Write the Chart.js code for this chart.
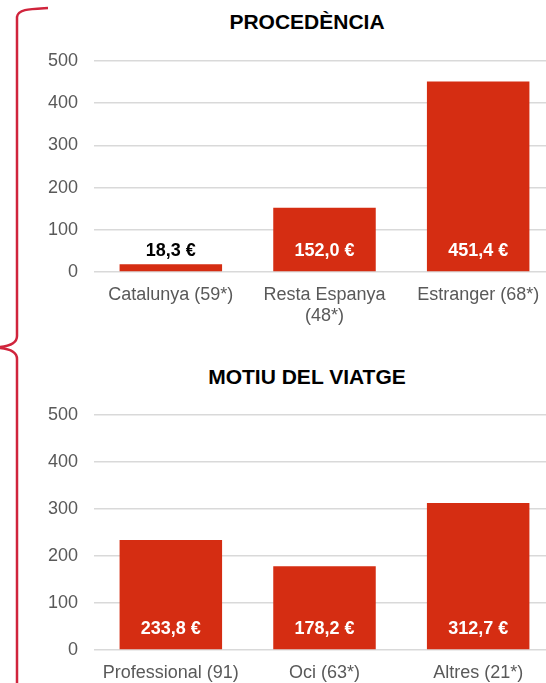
<!DOCTYPE html>
<html>
<head>
<meta charset="utf-8">
<script src="https://cdn.jsdelivr.net/npm/chart.js@4.4.0/dist/chart.umd.min.js"></script>
<style>
  html, body { margin: 0; padding: 0; background: #fff; overflow: hidden; }
  #wrap { position: relative; width: 546px; height: 683px; overflow: hidden; }
  canvas { position: absolute; }
  #brace { position: absolute; left: 0; top: 0; }
  .title {
    position: absolute; left: 107px; width: 400px; text-align: center;
    font: bold 21px "Liberation Sans", Arial, sans-serif; color: #000;
    line-height: 24px;
  }
</style>
</head>
<body>
<div id="wrap">
  <svg id="brace" width="60" height="683">
    <path d="M48,8 C30,9 18,9 17,17 L17,336 C17,343 10,346 0,347 M0,348 C10,349 17,352 17,359 L17,683"
          fill="none" stroke="#d0243c" stroke-width="2.5"/>
  </svg>
  <div class="title" style="top:10px;">PROCEDÈNCIA</div>
  <div class="title" style="top:365px;">MOTIU DEL VIATGE</div>
  <canvas id="procedencia" width="531" height="330" style="left:37px; top:0px;"></canvas>
  <canvas id="motiu" width="531" height="330" style="left:37px; top:355px;"></canvas>
</div>
<script>
const procLabels = ['Catalunya (59*)', ['Resta Espanya', '(48*)'], 'Estranger (68*)'];
const procValues = [18.3, 152.0, 451.4];
const motiuLabels = ['Professional (91)', 'Oci (63*)', 'Altres (21*)'];
const motiuValues = [233.8, 178.2, 312.7];

const barColor = '#d52d12';
const fontFamily = '"Liberation Sans", Arial, sans-serif';

// value labels sit just above the baseline, white inside tall bars
const valueLabels = {
  id: 'valueLabels',
  afterDatasetsDraw(chart) {
    const ctx = chart.ctx;
    const yScale = chart.scales.y;
    const base = yScale.getPixelForValue(0);
    const meta = chart.getDatasetMeta(0);
    ctx.save();
    ctx.font = 'bold 18px ' + fontFamily;
    ctx.textAlign = 'center';
    ctx.textBaseline = 'middle';
    meta.data.forEach(function(bar, i) {
      const v = chart.data.datasets[0].data[i];
      const y = base - 21;
      ctx.fillStyle = bar.y < y - 12 ? '#ffffff' : '#000000';
      ctx.fillText(v.toFixed(1).replace('.', ',') + ' €', bar.x, y);
    });
    ctx.restore();
  }
};

function makeChart(id, labels, values, padTop, xHeight) {
  const ctx = document.getElementById(id).getContext('2d');
  return new Chart(ctx, {
    type: 'bar',
    data: {
      labels: labels,
      datasets: [{
        data: values,
        backgroundColor: barColor,
        borderWidth: 0,
        categoryPercentage: 1,
        barPercentage: 0.667
      }]
    },
    options: {
      responsive: false,
      animation: false,
      layout: { padding: { left: 11, right: 13, top: padTop, bottom: 0 } },
      plugins: {
        legend: { display: false },
        tooltip: { enabled: false },
        title: { display: false }
      },
      scales: {
        x: {
          grid: { display: false, drawTicks: false },
          border: { display: false },
          afterFit: function(scale) { scale.height = xHeight; },
          ticks: {
            color: '#595959',
            font: { family: fontFamily, size: 18 },
            padding: 12,
            maxRotation: 0,
            autoSkip: false
          }
        },
        y: {
          min: 0,
          max: 500,
          grid: { color: '#d9d9d9', lineWidth: 1.5, drawTicks: false },
          border: { display: false },
          afterFit: function(scale) { scale.width = 46; },
          ticks: {
            stepSize: 100,
            color: '#595959',
            font: { family: fontFamily, size: 18 },
            padding: 16
          }
        }
      }
    },
    plugins: [valueLabels]
  });
}

makeChart('procedencia', procLabels, procValues, 61, 58);
makeChart('motiu', motiuLabels, motiuValues, 60, 35);
</script>
</body>
</html>
